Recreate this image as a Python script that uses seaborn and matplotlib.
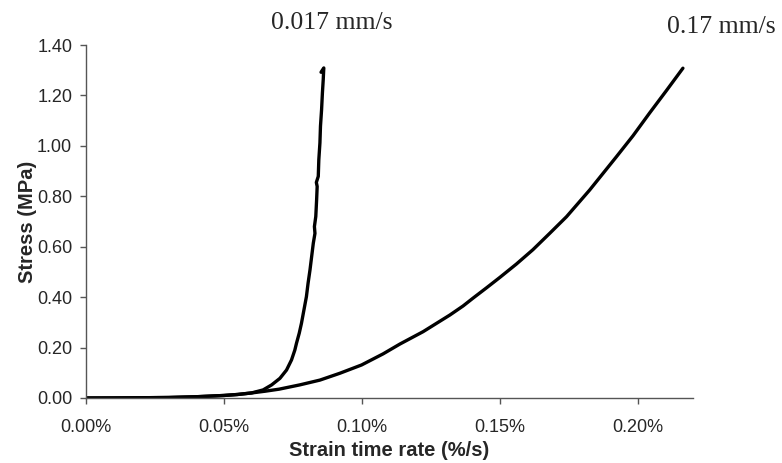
import matplotlib
matplotlib.use('Agg')
import matplotlib.pyplot as plt
import seaborn as sns
from matplotlib.ticker import FuncFormatter, MultipleLocator

# Strain time rate (%/s) and stress (MPa)
strain_slow = [0.0, 0.01, 0.02, 0.03, 0.04, 0.05, 0.055, 0.06, 0.0642, 0.0673,
               0.0703, 0.0727, 0.0745, 0.0757, 0.0763, 0.0773, 0.0781, 0.0790,
               0.0799, 0.0805, 0.0812, 0.0818, 0.0824, 0.0830, 0.0828, 0.0833,
               0.0836, 0.0838, 0.0835, 0.0842, 0.0844, 0.0848, 0.0850, 0.0854,
               0.0857, 0.0860, 0.0862, 0.0852]
stress_slow = [0.0, 0.0, 0.001, 0.002, 0.005, 0.010, 0.014, 0.020, 0.032, 0.052,
               0.078, 0.111, 0.151, 0.190, 0.217, 0.257, 0.296, 0.349,
               0.402, 0.455, 0.508, 0.561, 0.614, 0.653, 0.68, 0.720,
               0.786, 0.839, 0.855, 0.879, 0.945, 1.012, 1.078, 1.144,
               1.210, 1.263, 1.309, 1.292]

strain_fast = [0.0, 0.02, 0.03, 0.04, 0.05, 0.055, 0.06, 0.065, 0.07, 0.0775,
               0.0848, 0.0920, 0.0999, 0.1077, 0.1138, 0.1222, 0.1319, 0.1367,
               0.1403, 0.1452, 0.1500, 0.1560, 0.1620, 0.1681, 0.1742, 0.1826,
               0.1923, 0.1983, 0.2043, 0.2104, 0.2164]
stress_fast = [0.0, 0.001, 0.002, 0.005, 0.010, 0.014, 0.020, 0.027, 0.035, 0.052,
               0.071, 0.098, 0.131, 0.175, 0.214, 0.263, 0.329, 0.365,
               0.396, 0.437, 0.478, 0.531, 0.588, 0.653, 0.719, 0.825,
               0.957, 1.040, 1.130, 1.219, 1.308]

sns.set_style('white')
plt.rcParams['font.family'] = ['Liberation Sans', 'DejaVu Sans']

fig = plt.figure(figsize=(7.82, 4.63), dpi=100)
ax = fig.add_axes([0.110, 0.1404, 0.776, 0.7624])

sns.lineplot(x=strain_slow, y=stress_slow, sort=False, estimator=None,
             color='black', linewidth=2.4, ax=ax)
sns.lineplot(x=strain_fast, y=stress_fast, sort=False, estimator=None,
             color='black', linewidth=2.4, ax=ax)

ax.set_xlim(0, 0.22)
ax.set_ylim(0, 1.40)
ax.xaxis.set_major_locator(MultipleLocator(0.05))
ax.yaxis.set_major_locator(MultipleLocator(0.2))
ax.xaxis.set_major_formatter(FuncFormatter(lambda v, p: f'{v:.2f}%'))
ax.yaxis.set_major_formatter(FuncFormatter(lambda v, p: f'{v:.2f}'))

for side in ['top', 'right']:
    ax.spines[side].set_visible(False)
for side in ['left', 'bottom']:
    ax.spines[side].set_color('#555555')
    ax.spines[side].set_linewidth(1.0)

ax.tick_params(axis='both', which='major', direction='out', length=4,
               width=1, color='#555555', labelsize=13, bottom=True, left=True)
ax.tick_params(axis='x', pad=11)
ax.tick_params(axis='y', pad=6)

ax.set_xlabel('Strain time rate (%/s)', fontsize=14.5, fontweight='bold', labelpad=4)
ax.set_ylabel('Stress (MPa)', fontsize=14.5, fontweight='bold', labelpad=0)

ax.text(0.0891, 1.488, '0.017 mm/s', ha='center', va='center', fontsize=18.5,
        family='Liberation Serif', clip_on=False)
ax.text(0.2303, 1.472, '0.17 mm/s', ha='center', va='center', fontsize=18.5,
        family='Liberation Serif', clip_on=False)

fig.savefig('out.png', dpi=100)
